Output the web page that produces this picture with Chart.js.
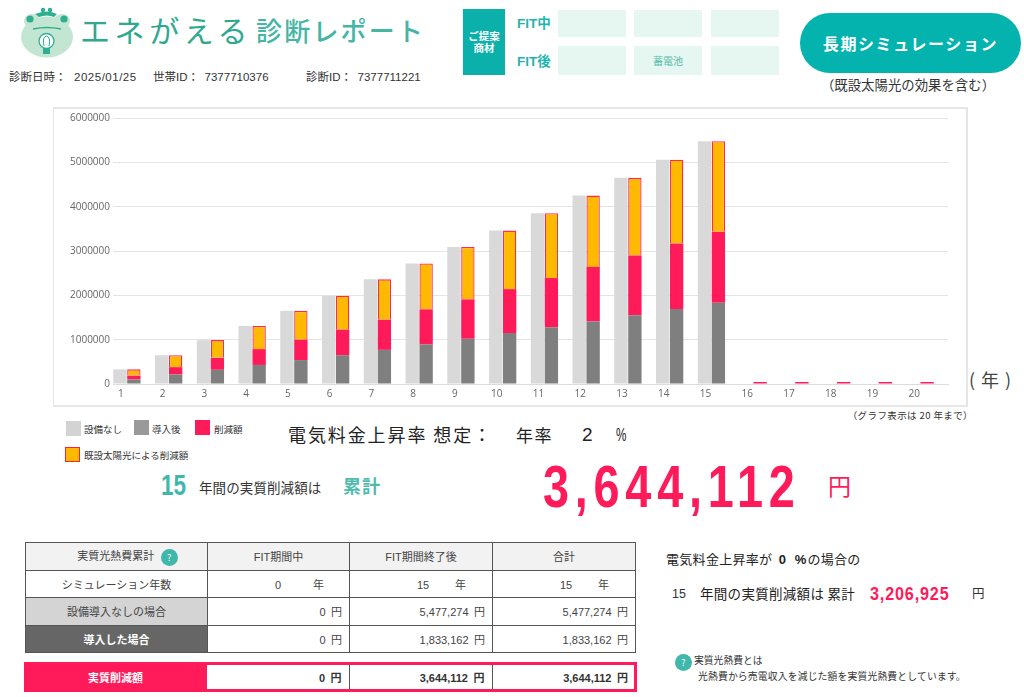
<!DOCTYPE html>
<html lang="ja"><head><meta charset="utf-8">
<script src="https://cdn.jsdelivr.net/npm/chart.js@4"></script>
<style>
html,body{margin:0;padding:0;background:#fff;width:1024px;height:697px;overflow:hidden}
body{position:relative;font-family:"Noto Sans CJK JP","Noto Sans",sans-serif;color:#333}
.t{position:absolute;white-space:nowrap;line-height:1}
.n{font-family:"Liberation Sans",sans-serif;letter-spacing:0}
.x{transform-origin:left center}
.b{position:absolute}
#frame{position:absolute;left:53px;top:107px;width:912px;height:296px;border:1px solid #e6e6e6;border-width:2px 2px 2px 1px}
#cv{position:absolute;left:53px;top:108px}
table{position:absolute;left:25px;top:542px;border-collapse:collapse;table-layout:fixed;width:610px;font-size:11px;color:#444}
td{border:1.5px solid #555;height:26.5px;padding:0;text-align:center}
td.r{text-align:right;padding-right:7px;word-spacing:3px}
td.y{text-align:left;padding-left:67px}
td.y .d{display:inline-block;width:38px}
</style></head><body>
<svg class="b" style="left:19px;top:4px" width="56" height="54" viewBox="0 0 56 54">
<ellipse cx="28" cy="33" rx="26" ry="20.5" fill="#c3e6d2"/>
<ellipse cx="13" cy="17" rx="8" ry="7" fill="#c3e6d2"/><ellipse cx="43" cy="17" rx="8" ry="7" fill="#c3e6d2"/>
<circle cx="11" cy="15" r="3.6" fill="#2faf91"/><circle cx="45" cy="15" r="3.6" fill="#2faf91"/>
<path d="M16 10 Q28 5 38 10 L35 13 Q28 10 20 13Z" fill="#2faf91"/><circle cx="24" cy="6" r="2.2" fill="#2faf91"/><circle cx="31" cy="6" r="2.2" fill="#2faf91"/>
<path d="M14 25 Q28 22 42 25" stroke="#2faf91" stroke-width="1.4" fill="none"/>
<circle cx="27.5" cy="37" r="7.5" fill="#fff" stroke="#2faf91" stroke-width="1.3"/>
<path d="M25 42 Q23 33 27.5 32 Q32 33 30 42" stroke="#2faf91" fill="none"/>
<rect x="24" y="44" width="7" height="6" fill="#2faf91"/>
</svg>
<span class="t" style="left:80px;top:14px;font-size:30px;letter-spacing:4.6px;color:#2fa98e;font-weight:400">エネがえる</span>
<span class="t" style="left:256px;top:17px;font-size:26px;letter-spacing:2.2px;color:#45b5a5;font-weight:500">診断レポート</span>
<span class="t" style="left:9px;top:71px;font-size:11.5px">診断日時： <span class="n" style="letter-spacing:.5px;margin-left:5px">2025/01/25</span></span>
<span class="t" style="left:153px;top:71px;font-size:11.5px">世帯<span class="n">ID</span>： <span class="n" style="margin-left:3px">7377710376</span></span>
<span class="t" style="left:306px;top:71px;font-size:11.5px">診断<span class="n">ID</span>： <span class="n" style="margin-left:3px">7377711221</span></span>

<div class="b" style="left:463px;top:9px;width:42px;height:66px;background:#0cb0ab"></div>
<span class="t" style="left:463px;top:30px;width:42px;text-align:center;color:#fff;font-size:10.5px;font-weight:700;line-height:12px">ご提案<br>商材</span>
<span class="t" style="left:517px;top:16px;font-size:13.5px;font-weight:700;color:#1fb5ae"><span class="n">FIT</span>中</span>
<span class="t" style="left:517px;top:54px;font-size:13.5px;font-weight:700;color:#1fb5ae"><span class="n">FIT</span>後</span>
<div class="b" style="left:558px;top:10px;width:68px;height:27px;background:#e6f6f1"></div>
<div class="b" style="left:634px;top:10px;width:68px;height:27px;background:#e6f6f1"></div>
<div class="b" style="left:711px;top:10px;width:68px;height:27px;background:#e6f6f1"></div>
<div class="b" style="left:558px;top:46px;width:68px;height:29px;background:#e6f6f1"></div>
<div class="b" style="left:634px;top:46px;width:68px;height:29px;background:#e6f6f1"></div>
<div class="b" style="left:711px;top:46px;width:68px;height:29px;background:#e6f6f1"></div>
<span class="t" style="left:634px;top:56px;width:68px;text-align:center;font-size:10px;color:#54bdaa">蓄電池</span>
<div class="b" style="left:800px;top:13px;width:221px;height:60px;border-radius:30px;background:#05b3ae"></div>
<span class="t" style="left:800px;top:35px;width:221px;text-align:center;color:#fff;font-size:16px;font-weight:700;letter-spacing:1.6px">長期シミュレーション</span>
<span class="t" style="left:800px;top:78px;width:216px;text-align:center;font-size:13.4px">（既設太陽光の効果を含む）</span>

<div id="frame"></div>
<canvas id="cv" width="914" height="298" style="width:914px;height:298px"></canvas>
<span class="t" style="left:969px;top:370px;font-size:18px;letter-spacing:6px;color:#444">(年)</span>
<span class="t" style="right:51px;top:411px;font-size:9.5px;letter-spacing:.4px">（グラフ表示は 20 年まで）</span>

<div class="b" style="left:66px;top:421px;width:15px;height:15px;background:#d3d3d3"></div>
<span class="t" style="left:84px;top:425px;font-size:9.5px">設備なし</span>
<div class="b" style="left:134px;top:420px;width:15px;height:15px;background:#999"></div>
<span class="t" style="left:152px;top:425px;font-size:9.5px">導入後</span>
<div class="b" style="left:195px;top:420px;width:15px;height:15px;background:#ff1a5a"></div>
<span class="t" style="left:214px;top:425px;font-size:9.5px">削減額</span>
<div class="b" style="left:65px;top:447px;width:13px;height:13px;background:#ffb900;border:1.5px solid #ff2233"></div>
<span class="t" style="left:84px;top:451px;font-size:9.5px">既設太陽光による削減額</span>

<span class="t" style="left:288px;top:425px;font-size:18px;letter-spacing:1.9px;color:#222">電気料金上昇率 想定：</span>
<span class="t" style="left:516px;top:426px;font-size:17px;letter-spacing:1.5px;color:#222">年率</span>
<span class="t n" style="left:582px;top:425px;font-size:19px;color:#222">2</span>
<span class="t n x" style="left:616px;top:426px;font-size:18px;color:#222;transform:scaleX(.65)">%</span>
<span class="t n x" style="left:161px;top:470px;font-size:30px;font-weight:700;color:#3fb8ab;transform:scaleX(.75)">15</span>
<span class="t" style="left:199px;top:481px;font-size:13.5px;letter-spacing:.1px">年間の実質削減額は</span>
<span class="t" style="left:343px;top:476px;font-size:18px;font-weight:700;color:#4fbcae;letter-spacing:1px">累計</span>
<span class="t n x" style="left:543px;top:457px;font-size:60px;font-weight:700;color:#ff1a5a;letter-spacing:7.4px;transform:scaleX(.78)">3,644,112</span>
<span class="t" style="left:828px;top:474px;font-size:23px;color:#ff1a5a">円</span>

<table><colgroup><col style="width:182px"><col style="width:142px"><col style="width:143px"><col style="width:143px"></colgroup>
<tr style="background:#f2f2f2"><td style="padding-left:22px">実質光熱費累計 <span style="display:inline-block;width:17px;height:17px;border-radius:50%;background:#3fb8ab;color:#fff;font-size:9px;line-height:17px;vertical-align:middle;margin-left:4px">?</span></td><td><span class="n">FIT</span>期間中</td><td><span class="n">FIT</span>期間終了後</td><td>合計</td></tr>
<tr><td>シミュレーション年数</td><td class="y"><span class="n d">0</span>年</td><td class="y"><span class="n d">15</span>年</td><td class="y"><span class="n d">15</span>年</td></tr>
<tr><td style="background:#d4d4d4">設備導入なしの場合</td><td class="r"><span class="n">0</span> 円</td><td class="r"><span class="n">5,477,274</span> 円</td><td class="r"><span class="n">5,477,274</span> 円</td></tr>
<tr><td style="background:#666;color:#fff;font-weight:700">導入した場合</td><td class="r"><span class="n">0</span> 円</td><td class="r"><span class="n">1,833,162</span> 円</td><td class="r"><span class="n">1,833,162</span> 円</td></tr>
</table>
<table style="top:662px;left:24px;width:613px;font-weight:700;color:#333;outline:3px solid #ff1a5a;outline-offset:-3px"><colgroup><col style="width:183px"><col style="width:142px"><col style="width:143px"><col style="width:145px"></colgroup>
<tr><td style="background:#ff1a5a;color:#fff;border:0;height:30px">実質削減額</td><td class="r" style="border-width:0 1.5px 0 0"><span class="n">0</span> 円</td><td class="r" style="border-width:0 1.5px 0 0"><span class="n">3,644,112</span> 円</td><td class="r" style="border:0;padding-right:9px"><span class="n">3,644,112</span> 円</td></tr></table>

<span class="t" style="left:666px;top:552px;font-size:13px;letter-spacing:.3px;color:#222">電気料金上昇率が <span class="n" style="font-weight:700;margin-left:3px">0</span><span class="n" style="font-weight:700;margin-left:9px;margin-right:1px">%</span>の場合の</span>
<span class="t n" style="left:672px;top:588px;font-size:12.5px">15</span>
<span class="t" style="left:700px;top:587px;font-size:13.5px;letter-spacing:.3px;color:#222">年間の実質削減額は 累計</span>
<span class="t n x" style="left:870px;top:584px;font-size:19px;font-weight:700;color:#ff1a5a;letter-spacing:1px;transform:scaleX(.85)">3,206,925</span>
<span class="t" style="left:972px;top:587px;font-size:12.5px">円</span>
<div class="b" style="left:675px;top:654px;width:17px;height:17px;border-radius:50%;background:#3fb8ab;color:#fff;font-size:9px;line-height:17px;text-align:center">?</div>
<span class="t" style="left:694px;top:656px;font-size:9.8px">実質光熱費とは</span>
<span class="t" style="left:698px;top:672px;font-size:9.8px;letter-spacing:.17px">光熱費から売電収入を減じた額を実質光熱費としています。</span>

<script>
const categories = ['1','2','3','4','5','6','7','8','9','10','11','12','13','14','15','16','17','18','19','20'];
const noEquipment = [330000,650000,990000,1310000,1650000,1990000,2360000,2720000,3090000,3460000,3850000,4250000,4650000,5060000,5477274,0,0,0,0,0];
const afterInstall = [105000,215000,320000,430000,540000,650000,770000,890000,1020000,1150000,1280000,1410000,1550000,1690000,1833162,0,0,0,0,0];
const reduction = [85000,165000,270000,357000,460000,576000,680000,795000,890000,990000,1110000,1230000,1350000,1480000,1600000,0,0,0,0,0];
const existingSolar = [140000,270000,400000,523000,650000,764000,910000,1035000,1180000,1320000,1460000,1610000,1750000,1890000,2044112,0,0,0,0,0];
const emptySlot = [];
const yTicks = [0,1000000,2000000,3000000,4000000,5000000,6000000];

const shared = {barPercentage:.96,categoryPercentage:1};
new Chart(document.getElementById('cv'),{
  type:'bar',
  data:{labels:categories,datasets:[
    {label:'設備なし',data:noEquipment,stack:'a',backgroundColor:'#d9d9d9',...shared},
    {label:'導入後',data:afterInstall,stack:'b',backgroundColor:'#7f7f7f',...shared},
    {label:'削減額',data:reduction,stack:'b',backgroundColor:'#ff1a5a',minBarLength:2,...shared},
    {label:'既設太陽光による削減額',data:existingSolar,stack:'b',backgroundColor:'#ffb900',borderColor:'#ff2a50',borderWidth:1.3,...shared},
    {label:'',data:emptySlot,stack:'c',...shared}
  ]},
  options:{
    responsive:false,animation:false,
    layout:{padding:{left:0,right:19,top:10,bottom:0}},
    plugins:{legend:{display:false},tooltip:{enabled:false}},
    scales:{
      x:{stacked:true,
         grid:{display:false,drawTicks:false,tickLength:0},border:{color:'#dcdcdc',width:1},
         ticks:{labelOffset:-13,padding:4,maxRotation:0,autoSkip:false,font:{family:'"Open Sans"',size:10},color:'#666'},
         afterFit(s){s.height=22;}},
      y:{stacked:true,min:0,max:6000000,
         afterBuildTicks(s){s.ticks=yTicks.map(v=>({value:v}));},
         afterFit(s){s.width=60;},
         grid:{color:'#e4e4e4',drawTicks:false},border:{display:false},
         ticks:{padding:3,font:{family:'"Open Sans"',size:10},color:'#666',callback:v=>String(v)}}
    }
  }
});
</script>
</body></html>
